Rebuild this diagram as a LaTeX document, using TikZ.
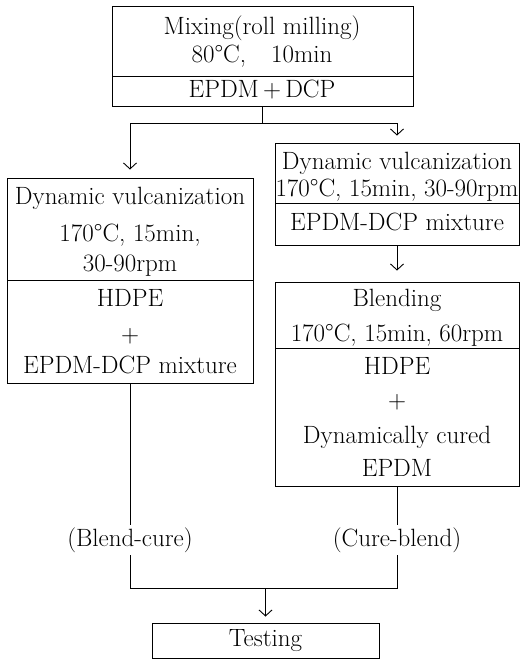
\documentclass[tikz,border=0pt]{standalone}
\usetikzlibrary{arrows.meta,positioning}
\tikzset{
  box/.style={draw,line width=0.9pt,inner sep=0pt},
  txt/.style={inner sep=0pt,text height=17pt,text depth=5pt,font=\fontsize{25}{29}\selectfont},
  lbl/.style={txt,inner sep=4pt},
  ln/.style={line width=0.9pt},
  arr/.style={ln,-{Straight Barb[length=6pt,width=13pt]}}
}
\begin{document}
\begin{tikzpicture}[x=1pt,y=-1pt]
\useasboundingbox (0,0) rectangle (521,659);
% boxes
\node[box,minimum width=301pt,minimum height=100pt] (mix) at (262.5,56) {};
\node[box,minimum width=246pt,minimum height=205pt] (dvl) at (130,280.5) {};
\node[box,minimum width=244pt,minimum height=102pt] (dvr) at (397,194) {};
\node[box,minimum width=244pt,minimum height=204pt] (bln) at (397,384) {};
\node[box,minimum width=227pt,minimum height=35pt] (test) at (265.5,640.5) {};
\draw[ln] (112,76)--(413,76);
\draw[ln] (7,280)--(253,280);
\draw[ln] (275,203)--(519,203);
\draw[ln] (275,348)--(519,348);
% texts
\node[txt] (mixa) at (262,28) {Mixing(roll milling)};
\node[txt] (mixb) at (262,56) {80°C,\quad 10min};
\node[txt] (mixc) at (262,91) {EPDM\,+\,DCP};
\node[txt] (dvla) at (130,198) {Dynamic vulcanization};
\node[txt] (dvlb) at (130,235) {170°C, 15min,};
\node[txt] (dvlc) at (130,265) {30-90rpm};
\node[txt] (dvld) at (130,300) {HDPE};
\node[txt] (dvle) at (130,336) {+};
\node[txt] (dvlf) at (130,367) {EPDM-DCP mixture};
\node[txt] (dvra) at (397,163) {Dynamic vulcanization};
\node[txt] (dvrb) at (397,190) {170°C, 15min, 30-90rpm};
\node[txt] (dvrc) at (397,224) {EPDM-DCP mixture};
\node[txt] (blna) at (397,300) {Blending};
\node[txt] (blnb) at (397,335) {170°C, 15min, 60rpm};
\node[txt] (blnc) at (397,368) {HDPE};
\node[txt] (blnd) at (397,402) {+};
\node[txt] (blne) at (397,437) {Dynamically cured};
\node[txt] (blnf) at (397,470) {EPDM};
\node[txt] (testa) at (265.5,640) {Testing};
\node[lbl] (bc) at (130,540) {(Blend-cure)};
\node[lbl] (cb) at (397,540) {(Cure-blend)};
% connectors
\coordinate (split) at (262.5,123);
\coordinate (splitl) at (130,123);
\coordinate (splitr) at (397,123);
\coordinate (joinl) at (130,588);
\coordinate (joinr) at (397,588);
\coordinate (joinm) at (265.5,588);
\draw[ln] (mix.south)--(split);
\draw[ln] (splitl)--(splitr);
\draw[arr,shorten >=8pt] (splitl)--(dvl.north);
\draw[arr,shorten >=7pt] (splitr)--(dvr.north);
\draw[arr,shorten >=11pt] (dvr.south)--(bln.north);
\draw[ln] (dvl.south)--(bc.north);
\draw[ln] (bln.south)--(cb.north);
\draw[ln] (bc.south)--(joinl)--(joinr)--(cb.south);
\draw[arr,shorten >=6pt] (joinm)--(test.north);
\end{tikzpicture}
\end{document}
